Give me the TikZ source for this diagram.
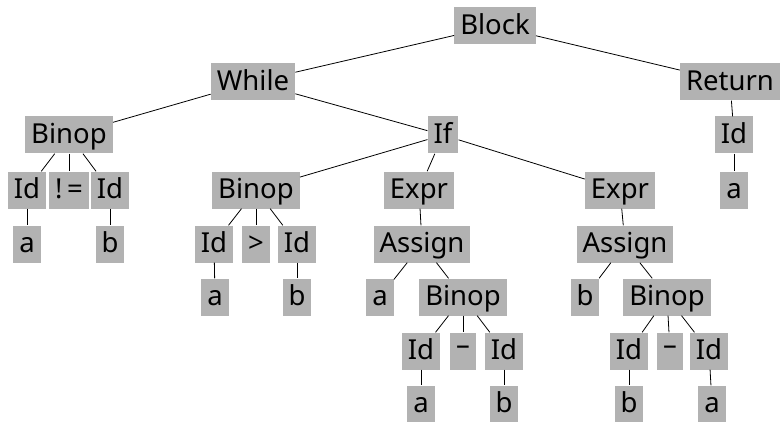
\documentclass[tikz,border=0pt]{standalone}
\usepackage{fontspec}
\setmainfont{Noto Sans}

\begin{document}
\begin{tikzpicture}[x=1pt,y=-1pt,
  ast/.style={fill=gray!60,inner xsep=6pt,inner ysep=5pt,text height=22pt,text depth=5pt,font=\fontsize{27.5}{30}\selectfont},
  edge/.style={line width=0.8pt}]
\useasboundingbox (0,0) rectangle (783,422);
% nodes, row by row
\node[ast] (block) at (495,26) {Block};
\node[ast] (while) at (253,82) {While};
\node[ast] (return) at (730,82) {Return};
\node[ast] (binopW) at (69,135) {Binop};
\node[ast] (ifn) at (443,135) {If};
\node[ast] (idR) at (734,135) {Id};
\node[ast] (idW1) at (27,190) {Id};
\node[ast] (neq) at (69,190) {!\,=};
\node[ast] (idW2) at (110,190) {Id};
\node[ast] (binopI) at (256,190) {Binop};
\node[ast] (exprL) at (419,190) {Expr};
\node[ast] (exprR) at (620,190) {Expr};
\node[ast] (aR) at (734,190) {a};
\node[ast] (aW) at (27,244) {a};
\node[ast] (bW) at (110,244) {b};
\node[ast] (idI1) at (214,244) {Id};
\node[ast] (gt) at (256,244) {>};
\node[ast] (idI2) at (297,244) {Id};
\node[ast] (assignL) at (422,244) {Assign};
\node[ast] (assignR) at (625,244) {Assign};
\node[ast] (aI) at (215,297) {a};
\node[ast] (bI) at (297,297) {b};
\node[ast] (aL) at (380,297) {a};
\node[ast] (binopL) at (463,297) {Binop};
\node[ast] (bR) at (585,297) {b};
\node[ast] (binopR) at (667,297) {Binop};
\node[ast] (idL1) at (421,351) {Id};
\node[ast] (minusL) at (463,351) {\raisebox{0.2em}{–}};
\node[ast] (idL2) at (504,351) {Id};
\node[ast] (idR1) at (629,351) {Id};
\node[ast] (minusR) at (670,351) {\raisebox{0.2em}{–}};
\node[ast] (idR2) at (709,351) {Id};
\node[ast] (aL1) at (421,404) {a};
\node[ast] (bL2) at (504,404) {b};
\node[ast] (bR1) at (629,404) {b};
\node[ast] (aR2) at (712,404) {a};
% edges
\foreach \p/\c in {block/while,block/return,while/binopW,while/ifn,return/idR,idR/aR,
  binopW/idW1,binopW/neq,binopW/idW2,idW1/aW,idW2/bW,
  ifn/binopI,ifn/exprL,ifn/exprR,binopI/idI1,binopI/gt,binopI/idI2,idI1/aI,idI2/bI,
  exprL/assignL,assignL/aL,assignL/binopL,binopL/idL1,binopL/minusL,binopL/idL2,idL1/aL1,idL2/bL2,
  exprR/assignR,assignR/bR,assignR/binopR,binopR/idR1,binopR/minusR,binopR/idR2,idR1/bR1,idR2/aR2} {
  \draw[edge] (\p) -- (\c);
}
\end{tikzpicture}
\end{document}
